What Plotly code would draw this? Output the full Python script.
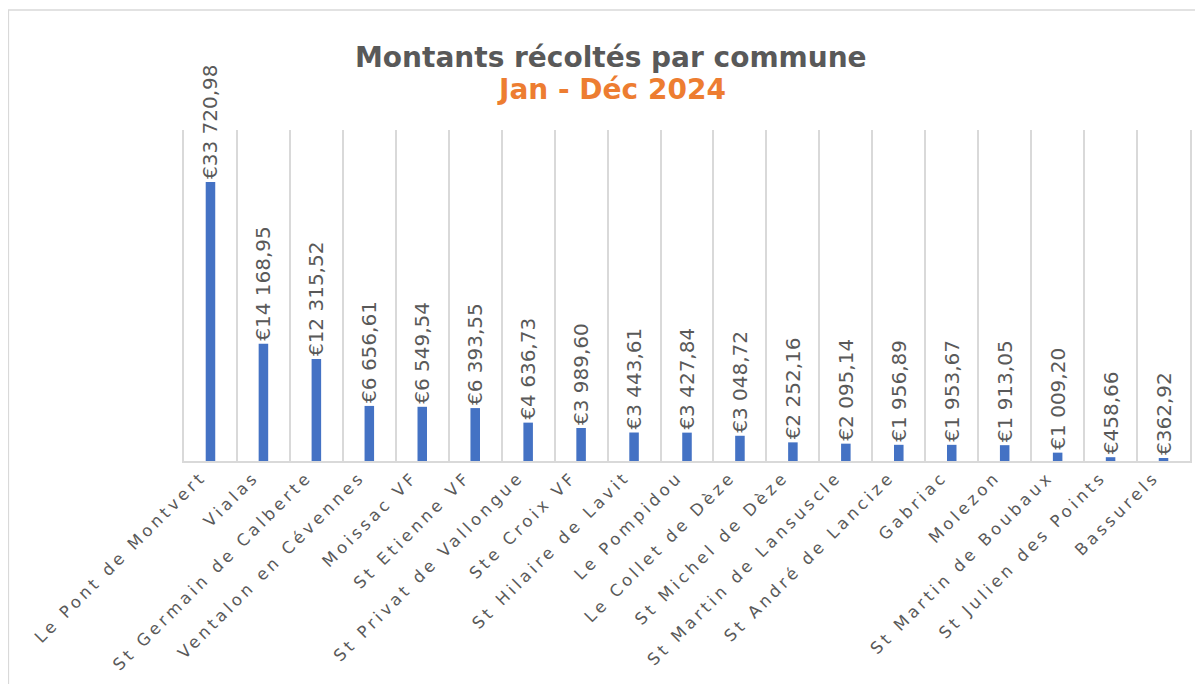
import plotly.graph_objects as go

communes = [
    "Le Pont de Montvert", "Vialas", "St Germain de Calberte", "Ventalon en Cévennes",
    "Moissac VF", "St Etienne VF", "St Privat de Vallongue", "Ste Croix VF",
    "St Hilaire de Lavit", "Le Pompidou", "Le Collet de Dèze", "St Michel de Dèze",
    "St Martin de Lansuscle", "St André de Lancize", "Gabriac", "Molezon",
    "St Martin de Boubaux", "St Julien des Points", "Bassurels",
]
montants = [
    33720.98, 14168.95, 12315.52, 6656.61, 6549.54, 6393.55, 4636.73, 3989.60,
    3443.61, 3427.84, 3048.72, 2252.16, 2095.14, 1956.89, 1953.67, 1913.05,
    1009.20, 458.66, 362.92,
]
titre = "Montants récoltés par commune"
sous_titre = "Jan - Déc 2024"

GRAY = "#595959"
GRID = "#D9D9D9"

fig = go.Figure(
    go.Bar(
        x=communes,
        y=montants,
        width=0.18,
        marker=dict(color="#4472C4", line=dict(width=0)),
        texttemplate="€%{y:,.2f}",
        textposition="outside",
        textangle=-90,
        constraintext="none",
        cliponaxis=False,
        textfont=dict(family="DejaVu Sans", size=20, color=GRAY),
        hoverinfo="skip",
    )
)

fig.update_layout(
    width=1195,
    height=676,
    margin=dict(l=176, r=11, t=122, b=223),
    paper_bgcolor="white",
    plot_bgcolor="white",
    separators=", ",
    showlegend=False,
    xaxis=dict(
        type="category",
        tickson="boundaries",
        showgrid=True,
        gridcolor=GRID,
        gridwidth=1.5,
        showline=True,
        linecolor=GRID,
        linewidth=1.5,
        ticks="",
        tickangle=-45,
        ticklabelshift=-9,
        ticklabelstandoff=-2,
        tickfont=dict(family="DejaVu Sans", size=16.5, color=GRAY),
        range=[-0.5, len(communes) - 0.5],
    ),
    yaxis=dict(
        range=[0, 40000],
        showgrid=False,
        zeroline=False,
        showticklabels=False,
        ticks="",
        showline=True,
        mirror=True,
        linecolor=GRID,
        linewidth=1.5,
    ),
    annotations=[
        dict(text=titre, xref="paper", yref="paper", x=0.4246, y=1.218,
             xanchor="center", yanchor="middle", showarrow=False,
             font=dict(family="DejaVu Sans", size=28, color=GRAY, weight="bold")),
        dict(text=sous_titre, xref="paper", yref="paper", x=0.4246, y=1.121,
             xanchor="center", yanchor="middle", showarrow=False,
             font=dict(family="DejaVu Sans", size=28, color="#ED7D31", weight="bold")),
    ],
    shapes=[
        dict(type="rect", xref="paper", yref="paper",
             x0=-0.1746, x1=1.03, y0=-0.75, y1=1.3625,
             line=dict(color=GRID, width=1.5), fillcolor="rgba(0,0,0,0)", layer="below"),
    ],
)

post = """
var s = document.createElement('style');
s.innerHTML = '.xtick text { letter-spacing: 3.6px; }';
document.head.appendChild(s);
"""

fig.write_html("out.html", post_script=post)
